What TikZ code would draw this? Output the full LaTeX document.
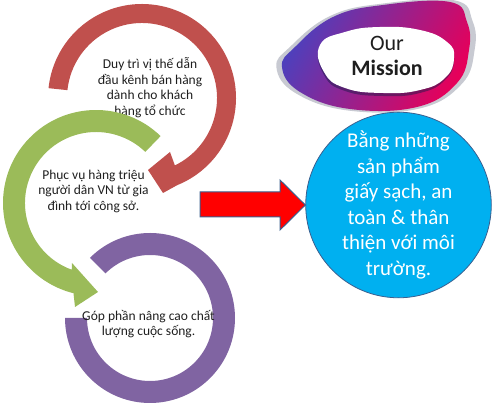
\documentclass[tikz,border=0pt]{standalone}
\usepackage{fontspec}
\setmainfont{Carlito}
\usetikzlibrary{calc}
\definecolor{arcred}{HTML}{C0504D}
\definecolor{arcgreen}{HTML}{9BBB59}
\definecolor{arcpurple}{HTML}{8064A2}
\definecolor{missionblue}{HTML}{00B0F0}
\definecolor{edgeblue}{HTML}{3B5F8F}
\definecolor{logoblue}{RGB}{75,65,190}
\definecolor{logomid}{RGB}{150,35,150}
\definecolor{logopink}{RGB}{230,0,90}
\definecolor{logogray}{RGB}{200,202,210}
\definecolor{txtdark}{RGB}{30,30,30}
\begin{document}
\begin{tikzpicture}[x=1pt,y=1pt,
  arctext/.style={align=center, font=\fontsize{13.5}{15.5}\selectfont, text=txtdark, inner sep=0pt},
  blockarrow/.style={fill=red, draw=edgeblue, line width=1pt, line join=miter},
  missioncircle/.style={circle, draw=edgeblue, line width=0.8pt, fill=missionblue, minimum size=185pt, inner sep=0pt, text=white, align=center, font=\fontsize{21}{25.5}\selectfont}]
\useasboundingbox (0,0) rectangle (493,406);

% ---- Our Mission logo ----
\begin{scope}[shift={(375,350)}, xscale=1.06, yscale=1.03, shift={(-375,-350)}]
\fill[logogray] plot[smooth cycle, tension=0.7] coordinates {(282,339) (295,359) (333,389) (383,401) (450,404) (467,384) (469,356) (457,323) (417,299) (350,297) (300,314)};
\end{scope}
\shade[left color=logoblue, middle color=logomid, right color=logopink, shading angle=60]
  plot[smooth cycle, tension=0.7] coordinates {(282,339) (295,359) (333,389) (383,401) (450,404) (467,384) (469,356) (457,323) (417,299) (350,297) (300,314)};
\fill[black!60!logoblue, opacity=0.5] plot[smooth cycle, tension=0.8] coordinates {(320,359) (345,372) (380,377) (420,374) (447,362) (454,346) (445,326) (420,313) (383,310) (345,315) (324,331)};
\fill[white] plot[smooth cycle, tension=0.8] coordinates {(320,361) (345,374) (380,379) (420,376) (447,364) (454,348) (445,328) (420,316) (383,313) (345,318) (324,334)};
\node[align=center, font=\fontsize{22}{25}\selectfont, text=txtdark, inner sep=0pt] (ourmission) at (387,350.5) {Our\\\textbf{Mission}};

% ---- mission circle and block arrow ----
\node[missioncircle] (mission) at (398.5,201) {Bằng những\\sản phẩm\\giấy sạch, an\\toàn \& thân\\thiện với môi\\trường.};
\draw[blockarrow] (200,189) -- (280,189) -- (280,176) -- (mission.west) -- (280,226) -- (280,214) -- (200,214) -- cycle;

% ---- red arc ----
\coordinate (rc) at (142,308);
\fill[arcred] ($(rc)+(174:94)$) arc[start angle=174, end angle=-68, radius=94]
  -- (163,213) -- (148,236) -- (170,254) -- ($(rc)+(-64:75)$)
  arc[start angle=-64, end angle=174, radius=75] -- cycle;
\node[arctext] (redtext) at (150,318.5) {Duy trì vị thế dẫn\\đầu kênh bán hàng\\dành cho khách\\hàng tổ chức};

% ---- green arc ----
\coordinate (gc) at (96,203);
\fill[arcgreen] ($(gc)+(46:93)$) arc[start angle=46, end angle=256, radius=93]
  -- (75,99) -- (98,114) -- (72,143) -- ($(gc)+(250:71)$)
  arc[start angle=250, end angle=46, radius=71] -- cycle;
\node[arctext] (greentext) at (93.5,215) {Phục vụ hàng triệu\\người dân VN từ gia\\đình tới công sở.};

% ---- purple arc ----
\coordinate (pc) at (150,88);
\fill[arcpurple] ($(pc)+(135:85)$) arc[start angle=135, end angle=-180, radius=85]
  -- ($(pc)+(180:63)$) arc[start angle=180, end angle=495, radius=63] -- cycle;
\node[arctext] (purpletext) at (148.5,82) {Góp phần nâng cao chất\\lượng cuộc sống.};
\end{tikzpicture}
\end{document}
